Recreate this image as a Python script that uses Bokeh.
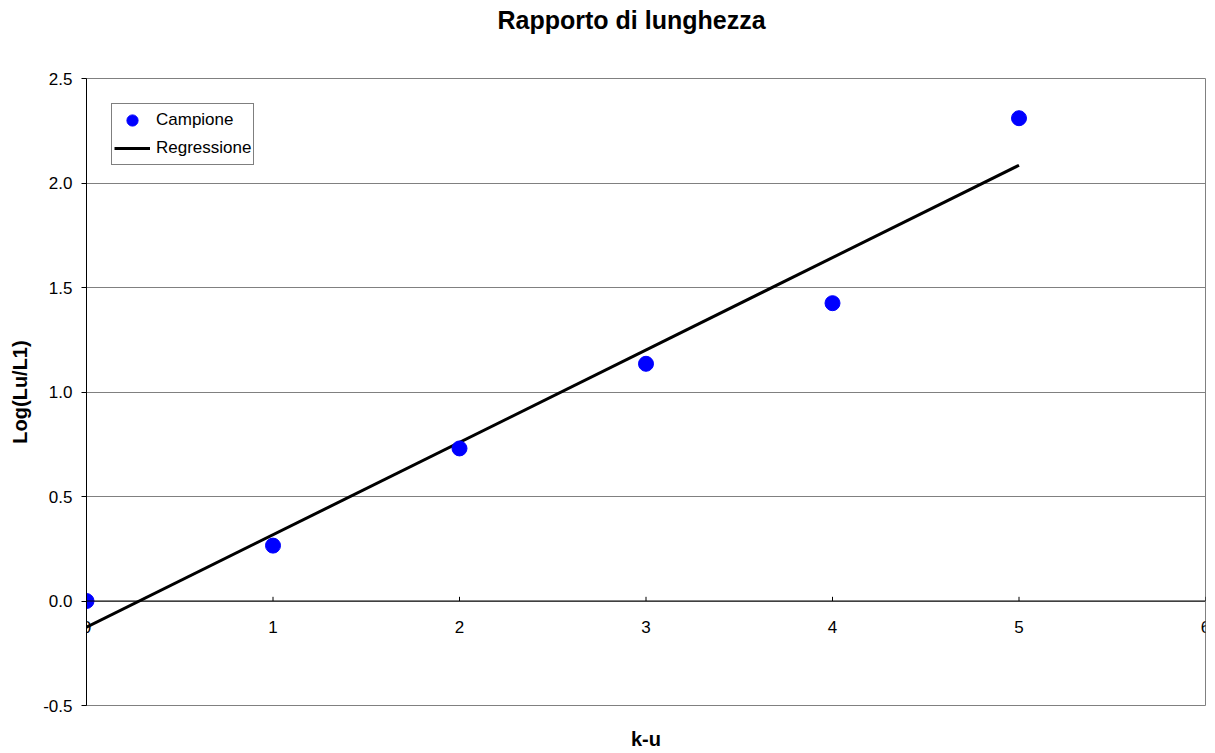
from bokeh.plotting import figure
from bokeh.models import Range1d, FixedTicker, Span, Legend, LegendItem, NumeralTickFormatter, Title
from bokeh.embed import file_html
from bokeh.resources import INLINE
from bokeh.core.properties import value

# data
x_vals = [0, 1, 2, 3, 4, 5]
y_vals = [0.0, 0.265, 0.73, 1.135, 1.425, 2.31]
reg_x = [0, 5]
reg_y = [-0.125, 2.085]
x_ticks = [0, 1, 2, 3, 4, 5, 6]
x_tick_labels = ["0", "1", "2", "3", "4", "5", "6"]
y_ticks = [-0.5, 0.0, 0.5, 1.0, 1.5, 2.0, 2.5]
title_text = "Rapporto di lunghezza"

FONT = "Liberation Sans"

p = figure(width=1214, height=752, output_backend="svg", toolbar_location=None,
           title=None,
           x_range=Range1d(0, 6), y_range=Range1d(-0.5, 2.5),
           min_border_left=86, min_border_right=9, min_border_top=78, min_border_bottom=47)

# spacer (nearest the frame) then the real title above it
p.add_layout(Title(text=" ", text_font=FONT, text_font_size="25px", standoff=8), "above")
p.add_layout(Title(text=title_text, align="left", offset=411, text_font=FONT,
                   text_font_size="25px", text_font_style="bold", text_color="black",
                   vertical_align="top", standoff=10), "above")

p.outline_line_color = "#808080"
p.outline_line_width = 1
p.background_fill_color = "white"
p.border_fill_color = "white"

# grid
p.xgrid.visible = False
p.ygrid.ticker = FixedTicker(ticks=y_ticks)
p.ygrid.grid_line_color = "#808080"
p.ygrid.grid_line_width = 1

# y axis
p.yaxis.ticker = FixedTicker(ticks=y_ticks)
p.yaxis.formatter = NumeralTickFormatter(format="0.0")
p.yaxis.axis_line_color = "black"
p.yaxis.major_tick_line_color = "black"
p.yaxis.major_tick_out = 5
p.yaxis.major_tick_in = 0
p.yaxis.minor_tick_line_color = None
p.yaxis.major_label_text_font = FONT
p.yaxis.major_label_text_font_size = "17px"
p.yaxis.major_label_text_color = "black"
p.yaxis.major_label_standoff = 9
p.yaxis.axis_label = "Log(Lu/L1)"
p.yaxis.axis_label_text_font = FONT
p.yaxis.axis_label_text_font_size = "20px"
p.yaxis.axis_label_text_font_style = "bold"
p.yaxis.axis_label_text_color = "black"
p.yaxis.axis_label_standoff = 9

# x axis (only label kept; ticks drawn at y=0)
p.xaxis.ticker = FixedTicker(ticks=[])
p.xaxis.axis_line_color = None
p.xaxis.major_tick_line_color = None
p.xaxis.minor_tick_line_color = None
p.xaxis.major_label_text_font_size = "0px"
p.xaxis.axis_label = "k-u"
p.xaxis.axis_label_text_font = FONT
p.xaxis.axis_label_text_font_size = "20px"
p.xaxis.axis_label_text_font_style = "bold"
p.xaxis.axis_label_text_color = "black"
p.xaxis.axis_label_standoff = 22

# zero line as x axis
p.add_layout(Span(location=0, dimension="width", line_color="black", line_width=1))
tick_len = 0.02
p.segment(x0=x_ticks, y0=[0] * len(x_ticks), x1=x_ticks, y1=[tick_len] * len(x_ticks),
          line_color="black", line_width=1)
p.text(x=x_ticks, y=[0] * len(x_ticks), text=x_tick_labels, text_align="center",
       text_baseline="top", y_offset=20, text_font=value(FONT), text_font_size="17px",
       text_color="black")

# series
r_line = p.line(reg_x, reg_y, line_color="black", line_width=3)
r_pts = p.scatter(x_vals, y_vals, size=15, fill_color="#0000FF", line_color="#0000FF")

legend = Legend(items=[LegendItem(label="Campione", renderers=[r_pts]),
                       LegendItem(label="Regressione", renderers=[r_line])],
                location="top_left", margin=25, padding=2, spacing=0,
                glyph_width=36, glyph_height=28, label_standoff=6,
                label_text_font=FONT, label_text_font_size="17px",
                label_text_color="black",
                border_line_color="black", border_line_width=1,
                background_fill_color="white", background_fill_alpha=1.0)
p.add_layout(legend)

open("out.html", "w").write(file_html(p, INLINE))
